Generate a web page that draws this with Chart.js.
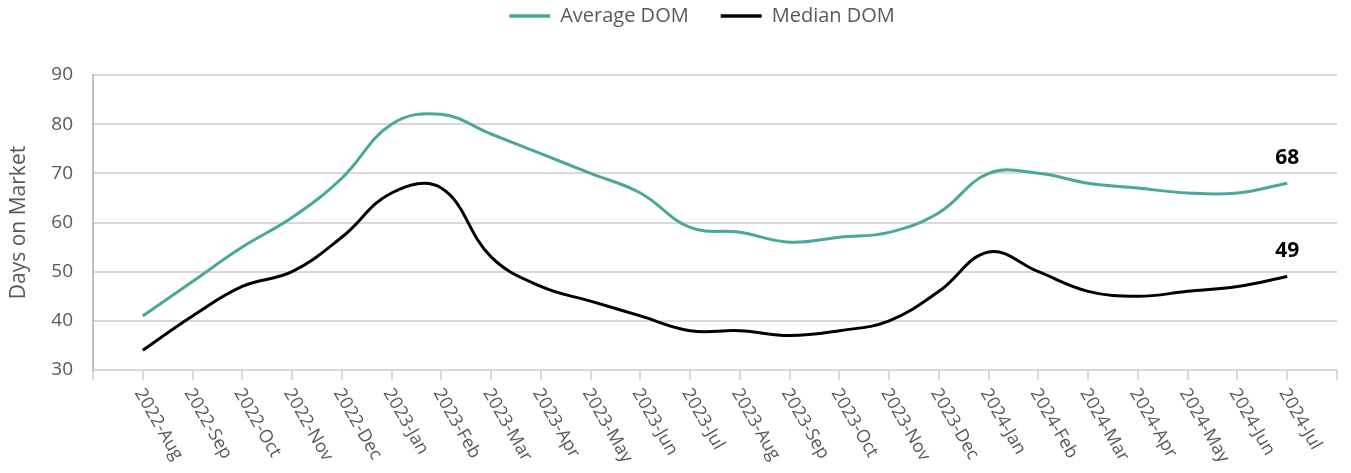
<!DOCTYPE html>
<html>
<head>
<meta charset="utf-8">
<script src="https://cdn.jsdelivr.net/npm/chart.js@4.4.0/dist/chart.umd.min.js"></script>
<style>
html,body{margin:0;padding:0;background:#fff;}
#wrap{width:1351px;height:473px;position:relative;}
</style>
</head>
<body>
<div id="wrap"><canvas id="c" width="1351" height="473"></canvas></div>
<script>
const categories = ['2022-Aug','2022-Sep','2022-Oct','2022-Nov','2022-Dec','2023-Jan','2023-Feb','2023-Mar','2023-Apr','2023-May','2023-Jun','2023-Jul','2023-Aug','2023-Sep','2023-Oct','2023-Nov','2023-Dec','2024-Jan','2024-Feb','2024-Mar','2024-Apr','2024-May','2024-Jun','2024-Jul'];
const averageDOM = [41,48,55,61,69,80,82,78,74,70,66,59,58,56,57,58,62,70,70,68,67,66,66,68];
const medianDOM  = [34,41,47,50,57,66,67,53,47,44,41,38,38,37,38,40,46,54,50,46,45,46,47,49];
const yTicks = [30,40,50,60,70,80,90];

const FONT = "'Open Sans', 'Noto Sans', sans-serif";
const TEXT = '#595959';
const TEAL = '#4AA79A';

// padded labels: one empty slot on each side
const labels = [''].concat(categories, ['']);
const pad = arr => [null].concat(arr, [null]);

const xLabelPlugin = {
  id: 'xLabels',
  afterDraw(chart) {
    const ctx = chart.ctx;
    const x = chart.scales.x;
    const top = x.top + 20;
    ctx.save();
    ctx.font = '18px ' + FONT;
    ctx.fillStyle = TEXT;
    ctx.textAlign = 'left';
    ctx.textBaseline = 'middle';
    categories.forEach((c, i) => {
      const px = x.getPixelForValue(i + 1);
      ctx.save();
      ctx.translate(px - 4, top);
      ctx.rotate(60 * Math.PI / 180);
      ctx.fillText(c, 0, 0);
      ctx.restore();
    });
    ctx.restore();
  }
};

const legendPlugin = {
  id: 'customLegend',
  afterDraw(chart) {
    const ctx = chart.ctx;
    ctx.save();
    ctx.font = '20px ' + FONT;
    ctx.textBaseline = 'middle';
    ctx.textAlign = 'left';
    const lineW = 41, gap = 10, itemGap = 32, y = 16;
    const items = chart.data.datasets.map(ds => ({ label: ds.label, color: ds.borderColor, w: ctx.measureText(ds.label).width }));
    let total = 0;
    items.forEach((it, i) => { total += lineW + gap + it.w + (i ? itemGap : 0); });
    let x = 702 - total / 2;
    items.forEach((it, i) => {
      if (i) x += itemGap;
      ctx.strokeStyle = it.color;
      ctx.lineWidth = 3.5;
      ctx.beginPath();
      ctx.moveTo(x, y);
      ctx.lineTo(x + lineW, y);
      ctx.stroke();
      x += lineW + gap;
      ctx.fillStyle = TEXT;
      ctx.fillText(it.label, x, y);
      x += it.w;
    });
    ctx.restore();
  }
};

const endLabelPlugin = {
  id: 'endLabels',
  afterDatasetsDraw(chart) {
    const ctx = chart.ctx;
    ctx.save();
    ctx.font = 'bold 21px ' + FONT;
    ctx.fillStyle = '#000';
    ctx.textAlign = 'center';
    ctx.textBaseline = 'bottom';
    chart.data.datasets.forEach((ds, di) => {
      const meta = chart.getDatasetMeta(di);
      const idx = categories.length; // last real point
      const pt = meta.data[idx];
      const v = ds.data[idx];
      ctx.fillText(String(v), pt.x, pt.y - 15);
    });
    ctx.restore();
  }
};

new Chart(document.getElementById('c'), {
  type: 'line',
  data: {
    labels: labels,
    datasets: [
      { label: 'Average DOM', data: pad(averageDOM), borderColor: TEAL, backgroundColor: TEAL, borderWidth: 3, pointRadius: 0, tension: 0.4 },
      { label: 'Median DOM', data: pad(medianDOM), borderColor: '#000000', backgroundColor: '#000000', borderWidth: 3, pointRadius: 0, tension: 0.4 }
    ]
  },
  options: {
    responsive: false,
    animation: false,
    devicePixelRatio: 1,
    layout: { padding: { left: 0, right: 14, top: 75, bottom: 0 } },
    plugins: {
      legend: { display: false },
      tooltip: { enabled: false }
    },
    scales: {
      x: {
        type: 'category',
        offset: false,
        grid: { drawOnChartArea: false, drawTicks: true, tickLength: 10, color: '#d9d9d9', lineWidth: 2 },
        border: { display: true, color: '#d9d9d9', width: 2 },
        ticks: { display: false, autoSkip: false },
        afterFit(s) { s.height = 103; }
      },
      y: {
        min: 30, max: 90,
        afterBuildTicks(s) { s.ticks = yTicks.map(v => ({ value: v })); },
        grid: { color: '#d9d9d9', lineWidth: 2, drawTicks: false },
        border: { display: true, color: '#bfbfbf', width: 2 },
        ticks: { color: TEXT, font: { family: FONT, size: 19 }, padding: 20 },
        title: { display: true, text: 'Days on Market', color: TEXT, font: { family: FONT, size: 21 }, padding: { top: 6, bottom: 0 } },
        afterFit(s) { s.width = 93; }
      }
    }
  },
  plugins: [xLabelPlugin, legendPlugin, endLabelPlugin]
});
</script>
</body>
</html>
